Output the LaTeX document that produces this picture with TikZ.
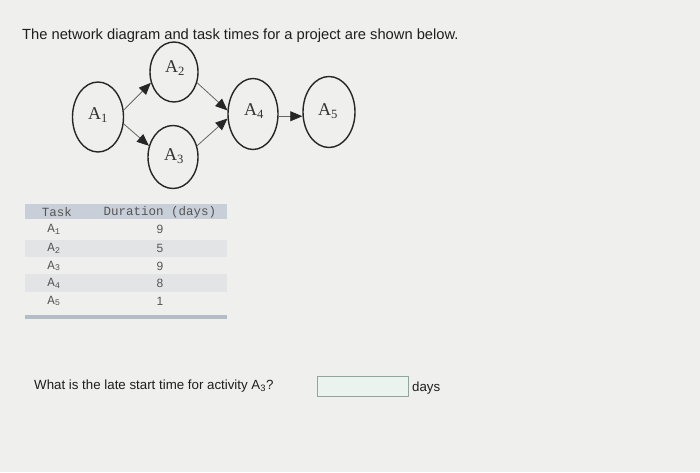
\documentclass[tikz,border=0pt]{standalone}
\usepackage{fontspec}
\setmainfont{Liberation Sans}
\newfontfamily\timesf{Liberation Serif}
\newfontfamily\monof{Liberation Mono}
\usetikzlibrary{shapes.geometric,arrows.meta}
\definecolor{bg}{HTML}{EFEFEE}
\definecolor{txt}{HTML}{1E1E1E}
\definecolor{hdr}{HTML}{C9CFD8}
\definecolor{rowsh}{HTML}{E2E4E6}
\definecolor{bar}{HTML}{B4BCC6}
\definecolor{tabtxt}{HTML}{555555}
\definecolor{boxfill}{HTML}{EAF3EE}
\definecolor{boxline}{HTML}{8FA79A}
\tikzset{
  act/.style={ellipse, draw=black!85, line width=1.4pt, inner sep=0pt, font=\timesf\fontsize{18}{18}\selectfont, text=black!80},
  arr/.style={draw=black!60, line width=0.8pt, -{Triangle[length=12pt,width=10pt,fill=black!85,color=black!85]}},
  tab/.style={font=\monof\fontsize{12.5}{13}\selectfont, text=tabtxt, inner sep=0pt},
  num/.style={font=\fontsize{12}{13}\selectfont, text=tabtxt, inner sep=0pt},
}
\begin{document}
\begin{tikzpicture}[x=1pt,y=-1pt]
\fill[bg] (0,0) rectangle (700,472);
\useasboundingbox (0,0) rectangle (700,472);
% title
\node[anchor=base west, inner sep=0pt, text=txt, font=\fontsize{14.7}{16}\selectfont] (title) at (22,39) {The network diagram and task times for a project are shown below.};
% activity nodes
\node[act, minimum width=51pt, minimum height=70pt] (a1) at (98,117) {};
\node[act, minimum width=48pt, minimum height=60pt] (a2) at (174,72) {};
\node[act, minimum width=50pt, minimum height=63pt] (a3) at (173,157) {};
\node[act, minimum width=50pt, minimum height=71pt] (a4) at (253,114) {};
\node[act, minimum width=52pt, minimum height=71pt] (a5) at (329,112) {};
\node[act, draw=none] (l1) at (98,115) {A\textsubscript{1}};
\node[act, draw=none] (l2) at (175,68) {A\textsubscript{2}};
\node[act, draw=none] (l3) at (174,156) {A\textsubscript{3}};
\node[act, draw=none] (l4) at (254,111) {A\textsubscript{4}};
\node[act, draw=none] (l5) at (328,111) {A\textsubscript{5}};
% connectors
\draw[arr] (a1.15) -- (a2.205);
\draw[arr] (a1.-15) -- (a3.155);
\draw[arr] (a2.-25) -- (a4.172);
\draw[arr] (a3.25) -- (a4.190);
\draw[arr] (a4.-5) -- (a4.-5 -| a5.west);
% table
\fill[hdr] (25,204) rectangle (227,219);
\fill[rowsh] (25,240) rectangle (227,257);
\fill[rowsh] (25,274) rectangle (227,292);
\fill[bar] (25,315) rectangle (227,319);
\node[tab] (th1) at (57,212) {Task};
\node[tab] (th2) at (160,212) {Duration (days)};
\node[tab] (t1) at (54,229) {A\textsubscript{1}};
\node[tab] (t2) at (54,248) {A\textsubscript{2}};
\node[tab] (t3) at (54,266) {A\textsubscript{3}};
\node[tab] (t4) at (54,283) {A\textsubscript{4}};
\node[tab] (t5) at (54,301) {A\textsubscript{5}};
\node[num] (d1) at (160,229) {9};
\node[num] (d2) at (160,248) {5};
\node[num] (d3) at (160,266) {9};
\node[num] (d4) at (160,283) {8};
\node[num] (d5) at (160,301) {1};
% question
\node[anchor=base west, inner sep=0pt, text=txt, font=\fontsize{13.3}{15}\selectfont] (q) at (34,389) {What is the late start time for activity A\textsubscript{3}?};
\node[draw=boxline, fill=boxfill, line width=0.8pt, minimum width=91pt, minimum height=20pt, inner sep=0pt] (box) at (362.5,386) {};
\node[anchor=base west, inner sep=0pt, text=txt, font=\fontsize{13.3}{15}\selectfont] (days) at (412,391) {days};
\end{tikzpicture}
\end{document}
